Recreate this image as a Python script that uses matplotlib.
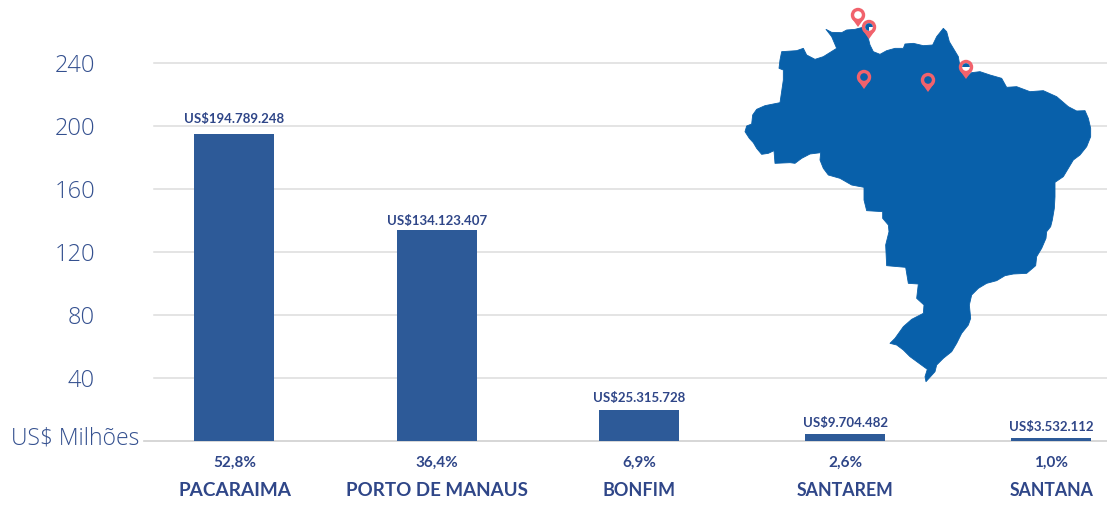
import matplotlib
matplotlib.use("Agg")
import matplotlib.pyplot as plt
from matplotlib.patches import Polygon, Circle, Wedge

W, H = 1107, 505

# data
ports = ["PACARAIMA", "PORTO DE MANAUS", "BONFIM", "SANTAREM", "SANTANA"]
bar_heights = [195.0, 134.2, 19.7, 4.6, 2.2]  # as drawn, small bars are shorter than the labels say
value_labels = ["US$194.789.248", "US$134.123.407", "US$25.315.728", "US$9.704.482", "US$3.532.112"]
shares = ["52,8%", "36,4%", "6,9%", "2,6%", "1,0%"]
y_ticks = [40, 80, 120, 160, 200, 240]

# layout
bar_centers = [234, 436.5, 638.5, 845, 1051]
label_y = [118.5, 220.5, 398, 422.5, 427]
name_sizes = [13.7, 13.5, 13, 12.8, 12.7]

map_trace = [
    (258, 88), (275, 97), (305, 98), (320, 90), (345, 88), (368, 82), (375, 95), (385, 115),
    (390, 135), (400, 155), (420, 163), (440, 152), (465, 145), (490, 145), (495, 132),
    (520, 130), (550, 137), (578, 135), (590, 110), (610, 85), (620, 95), (628, 125),
    (640, 145), (655, 170), (660, 200), (680, 232), (695, 218), (720, 215), (750, 225),
    (785, 235), (800, 262), (830, 260), (870, 275), (910, 272), (950, 290), (985, 320),
    (1010, 333), (1035, 332), (1045, 355), (1052, 385), (1052, 410), (1040, 440), (1020, 465),
    (1000, 480), (985, 505), (970, 530), (945, 547), (945, 590), (943, 625), (937, 660),
    (932, 680), (920, 695), (918, 715), (905, 745), (890, 770), (887, 797), (860, 820),
    (820, 822), (795, 827), (770, 842), (740, 850), (715, 865), (695, 885), (688, 915),
    (692, 955), (685, 975), (665, 1000), (650, 1030), (635, 1055), (610, 1075), (590, 1095),
    (585, 1115), (558, 1145), (555, 1130), (562, 1108), (540, 1092), (510, 1070), (490, 1050),
    (470, 1035), (450, 1030), (465, 1015), (490, 980), (515, 958), (550, 940), (552, 915),
    (530, 895), (535, 852), (505, 850), (497, 802), (440, 797), (437, 735), (447, 695),
    (445, 675), (428, 655), (428, 635), (380, 632), (372, 600), (372, 562), (335, 555),
    (300, 535), (265, 525), (250, 505), (240, 480), (242, 458), (210, 462), (185, 475),
    (165, 490), (150, 488), (105, 490), (102, 452), (85, 460), (65, 463), (50, 445),
    (40, 428), (28, 415), (15, 395), (20, 378), (35, 372), (38, 345), (50, 328), (75, 317),
    (100, 312), (120, 308), (130, 240), (130, 210), (117, 205), (120, 180), (125, 155),
    (170, 152), (190, 145), (200, 165), (225, 178), (250, 170), (290, 145), (275, 110),
]
# pin centre and what shows in the hole
pins = [(858, 15, "white"), (869, 27, "quarter"), (864, 77, "blue"), (928, 80, "blue"), (966, 67, "half")]

BLUE = "#2d5a98"
MAP_BLUE = "#0860aa"
PIN = "#f1626c"
LABEL = "#2f4688"
TICK = "#34508f"
GRID = "#dcdcdc"

fig = plt.figure(figsize=(W / 100, H / 100), dpi=100)
ax = fig.add_axes([0, 0, 1, 1])
ax.set_xlim(0, W)
ax.set_ylim(H, 0)
ax.axis("off")


def y_px(v):
    # 240 sits at y=63 and 0 at y=441
    return 441 - v * 378 / 240


for t in y_ticks:
    ax.plot([154, W], [y_px(t)] * 2, color=GRID, lw=1.1, zorder=1)
    ax.text(95, y_px(t) + 3, str(t), ha="right", va="center", fontsize=17,
            family="Open Sans", fontweight="light", color=TICK)
ax.plot([144, W], [441, 441], color="#cfcfcf", lw=1.2, zorder=1)
ax.text(11, 438.5, "US$ Milhões", ha="left", va="center", fontsize=16.5,
        family="Open Sans", fontweight="light", color=TICK)

for cx, h, ly, size, val, share, name in zip(bar_centers, bar_heights, label_y, name_sizes,
                                             value_labels, shares, ports):
    ax.bar(cx, -h * 378 / 240, bottom=441, width=80, color=BLUE, zorder=2)
    ax.text(cx + 0.5, ly, val, ha="center", va="center",
            fontsize=9.5, family="Lato", fontweight="bold", color=LABEL, zorder=4)
    ax.text(cx + 0.5, 462.5, share, ha="center", va="center", fontsize=11,
            family="Lato", fontweight="bold", color=LABEL)
    ax.text(cx + 0.5, 491, name, ha="center", va="center", fontsize=size,
            family="Lato", fontweight="bold", color=LABEL)

map_outline = [(740 + x / 3, y / 3) for x, y in map_trace]
ax.add_patch(Polygon(map_outline, closed=True, facecolor=MAP_BLUE, edgecolor=MAP_BLUE,
                     lw=0.6, joinstyle="round", zorder=3))


def draw_pin(x, y, hole):
    ax.add_patch(Circle((x, y), 7.2, color=PIN, lw=0, zorder=5))
    ax.add_patch(Polygon([(x - 6.8, y + 2.5), (x + 6.8, y + 2.5), (x, y + 12)], closed=True,
                         color=PIN, lw=0, zorder=5))
    if hole == "blue":
        ax.add_patch(Circle((x, y), 3.8, color=MAP_BLUE, lw=0, zorder=6))
    else:
        ax.add_patch(Circle((x, y), 3.8, color="white", lw=0, zorder=6))
    if hole == "quarter":
        ax.add_patch(Wedge((x, y), 3.8, 90, 360, color=MAP_BLUE, lw=0, zorder=7))
    if hole == "half":
        ax.add_patch(Wedge((x, y), 3.8, 180, 360, color=MAP_BLUE, lw=0, zorder=7))


for px, py, hole in pins:
    draw_pin(px, py, hole)

fig.savefig("out.png", dpi=100)
